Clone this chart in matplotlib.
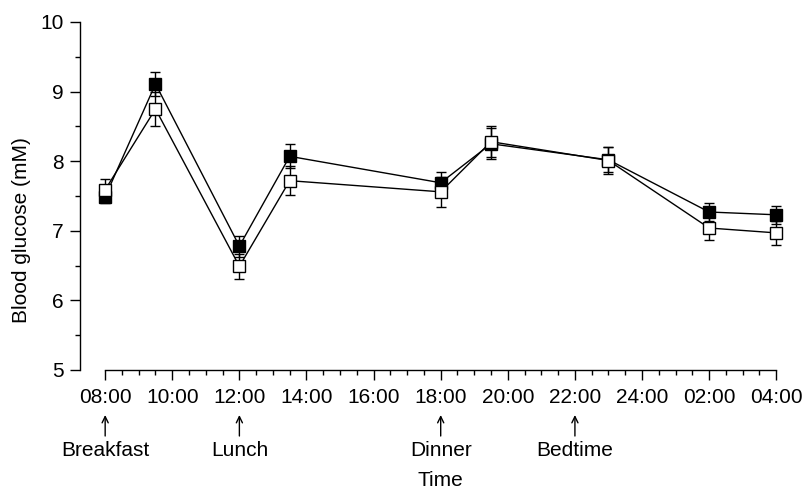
import matplotlib
matplotlib.use("Agg")
import matplotlib.pyplot as plt
from matplotlib.ticker import MultipleLocator, FixedLocator
from matplotlib.transforms import blended_transform_factory
import numpy as np

plt.rcParams['font.family'] = ['Liberation Sans', 'DejaVu Sans']

# Data
times = [8.0, 9.5, 12.0, 13.5, 18.0, 19.5, 23.0, 26.0, 28.0]
filled_mean = [7.49, 9.11, 6.78, 8.07, 7.69, 8.25, 8.02, 7.27, 7.23]
filled_err = [0.09, 0.17, 0.15, 0.17, 0.15, 0.22, 0.18, 0.13, 0.13]
open_mean = [7.59, 8.75, 6.49, 7.72, 7.56, 8.28, 8.01, 7.04, 6.97]
open_err = [0.16, 0.24, 0.18, 0.21, 0.22, 0.22, 0.20, 0.17, 0.17]

xtick_pos = [8, 10, 12, 14, 16, 18, 20, 22, 24, 26, 28]
xtick_labels = ['08:00', '10:00', '12:00', '14:00', '16:00', '18:00',
                '20:00', '22:00', '24:00', '02:00', '04:00']
event_times = [8, 12, 18, 22]
event_labels = ['Breakfast', 'Lunch', 'Dinner', 'Bedtime']

W, H = 802, 496
fig = plt.figure(figsize=(W / 100, H / 100), dpi=100)
ax = fig.add_axes([80 / W, 1 - 370 / H, 710 / W, 348 / H])

ax.errorbar(times, filled_mean, yerr=filled_err, color='black', lw=1.0,
            marker='s', ms=8, mfc='black', mec='black', mew=1.0,
            capsize=3.5, elinewidth=1.0, capthick=1.0, zorder=2)
ax.errorbar(times, open_mean, yerr=open_err, color='black', lw=1.0,
            marker='s', ms=8, mfc='white', mec='black', mew=1.0,
            capsize=3.5, elinewidth=1.0, capthick=1.0, zorder=3)

ax.set_xlim(7.25, 28.41)
ax.set_ylim(5, 10)
ax.spines['top'].set_visible(False)
ax.spines['right'].set_visible(False)
ax.spines['bottom'].set_bounds(8, 28)
ax.spines['left'].set_bounds(5, 10)
for s in ('left', 'bottom'):
    ax.spines[s].set_linewidth(1.0)

ax.xaxis.set_major_locator(FixedLocator(xtick_pos))
ax.set_xticklabels(xtick_labels)
ax.xaxis.set_minor_locator(FixedLocator(np.arange(8, 28.01, 0.5)))
ax.yaxis.set_major_locator(MultipleLocator(1))
ax.yaxis.set_minor_locator(MultipleLocator(0.5))
ax.tick_params(axis='both', which='major', direction='out', length=7, width=1.0,
               labelsize=15)
ax.tick_params(axis='both', which='minor', direction='out', length=3.8, width=1.0)
ax.tick_params(axis='x', which='major', pad=6)
ax.tick_params(axis='y', which='major', pad=5)

fig.text(22 / W, 1 - 230 / H, 'Blood glucose (mM)', rotation=90,
         ha='center', va='center', fontsize=15)
fig.text(440 / W, 1 - 481 / H, 'Time', ha='center', va='center', fontsize=15)

tr = blended_transform_factory(ax.transData, fig.transFigure)
for t, lab in zip(event_times, event_labels):
    ax.annotate('', xy=(t, 1 - 415 / H), xytext=(t, 1 - 436 / H),
                xycoords=tr, textcoords=tr,
                arrowprops=dict(arrowstyle='->,head_length=0.45,head_width=0.22',
                                lw=1.0, color='black', shrinkA=0, shrinkB=0),
                annotation_clip=False)
    ax.text(t, 1 - 450 / H, lab, transform=tr, ha='center', va='center',
            fontsize=15, clip_on=False)

fig.savefig('out.png', dpi=100)
